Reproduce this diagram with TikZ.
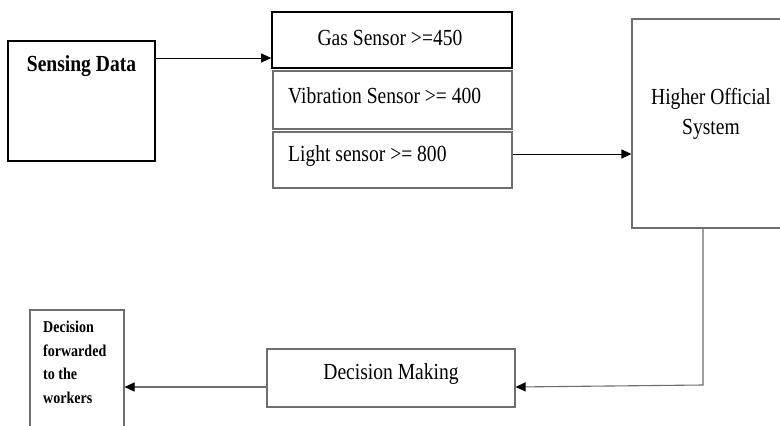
\documentclass[tikz,border=0pt]{standalone}
\usepackage{fontspec}
\setmainfont{Liberation Serif}[FakeStretch=0.85]
\usetikzlibrary{arrows.meta,calc}
\definecolor{edgegray}{HTML}{6E6E6E}
\begin{document}
\begin{tikzpicture}[x=1pt,y=-1pt,
  boxthick/.style={draw=black,line width=1.6pt,inner sep=0pt},
  boxthin/.style={draw=edgegray,line width=1.1pt,inner sep=0pt},
  txt/.style={inner sep=0pt,font=\fontsize{23}{30}\selectfont},
  smalltxt/.style={inner sep=0pt,font=\fontsize{16.5}{23.5}\selectfont\bfseries,align=left},
  arr/.style={line width=1pt,-{Triangle[length=10pt,width=9pt]}},
  grayarr/.style={draw=edgegray,line width=1.1pt,-{Triangle[length=10pt,width=9pt,color=black]}}
]
\useasboundingbox (0,0) rectangle (780,426);
\clip (0,0) rectangle (780,426);
\fill[white] (0,0) rectangle (780,426);

% Sensing Data
\node[boxthick,minimum width=147pt,minimum height=120pt] (sd) at (81.5,101) {};
\node[txt,font=\fontsize{23}{30}\selectfont\bfseries] (sdt) at (81.5,66) {Sensing Data};

% sensor boxes
\node[boxthick,minimum width=240pt,minimum height=56pt] (gas) at (392,40) {};
\node[txt] (gast) at (390,38) {Gas Sensor >=450};
\node[boxthin,minimum width=239pt,minimum height=58pt] (vib) at (392.5,100) {};
\node[txt,anchor=west] (vibt) at (288,96) {Vibration Sensor >= 400};
\node[boxthin,minimum width=239pt,minimum height=56pt] (lig) at (392.5,160) {};
\node[txt,anchor=west] (ligt) at (288,156) {Light sensor >= 800};

% Higher Official System
\node[boxthin,minimum width=158pt,minimum height=209pt] (hos) at (711,123.5) {};
\node[txt,align=center] (host) at (711,114) {Higher Official\\System};

% Decision Making
\node[boxthin,minimum width=248pt,minimum height=58pt] (dm) at (391,378) {};
\node[txt] (dmt) at (391,374) {Decision Making};

% Decision forwarded
\node[boxthin,minimum width=94pt,minimum height=140pt] (df) at (77,380) {};
\node[smalltxt,anchor=north west] (dft) at (43,321) {Decision\\forwarded\\to the\\workers};

% connectors
\draw[arr] (sd.east |- 0,58) -- (gas.west |- 0,58);
\draw[arr] (lig.east |- 0,154) -- (hos.west |- 0,154);
\draw[grayarr] (hos.south -| 703,0) -- (703,385) -- (dm.east |- 0,387);
\draw[grayarr] (dm.west |- 0,387) -- (df.east |- 0,387);
\end{tikzpicture}
\end{document}
